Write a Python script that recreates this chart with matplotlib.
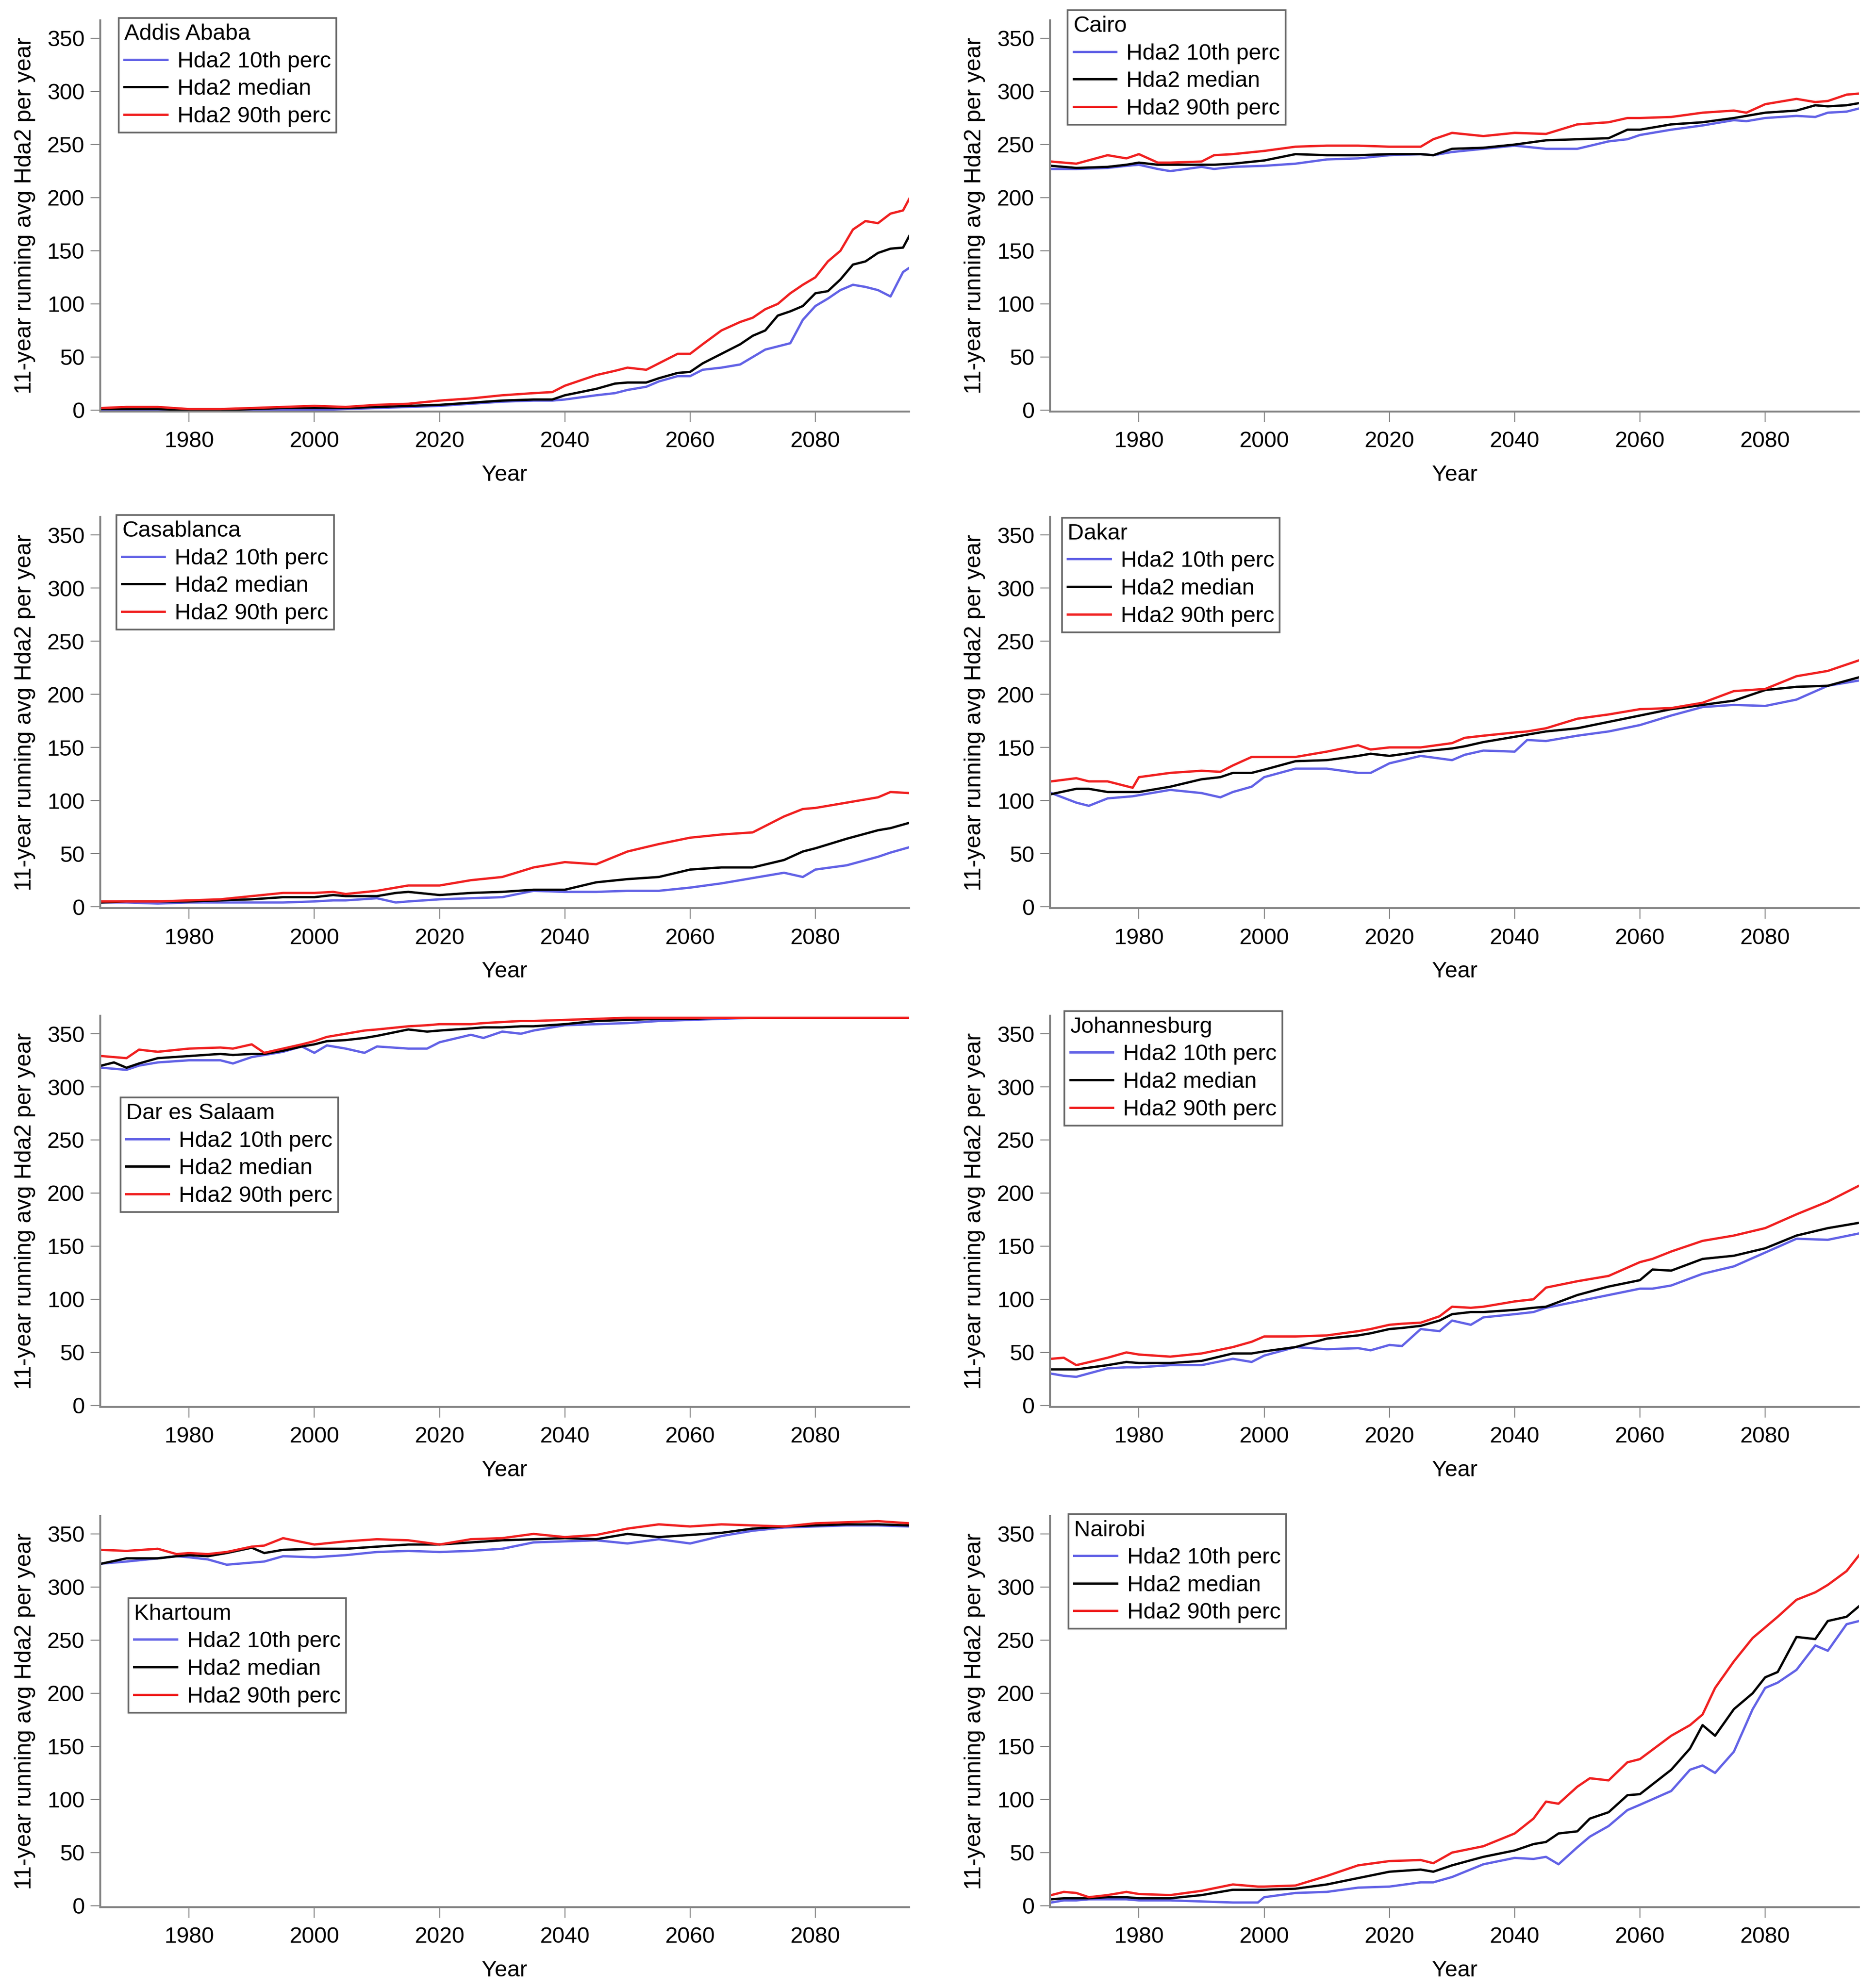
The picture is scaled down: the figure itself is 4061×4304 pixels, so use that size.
"""
Hda2 running averages for eight African cities, 10th / median / 90th percentile.
"""

import matplotlib
matplotlib.use("Agg")
import matplotlib.pyplot as plt

# ---- data ----
ADDIS_YEARS = [1966, 1970, 1975, 1980, 1985, 1990, 1995, 2000, 2005, 2010,
               2015, 2020, 2025, 2030, 2035, 2038, 2040, 2045, 2048, 2050,
               2053, 2055, 2058, 2060, 2062, 2065, 2068, 2070, 2072, 2074,
               2076, 2078, 2080, 2082, 2084, 2086, 2088, 2090, 2092, 2094, 2095]
ADDIS_P10 = [0, 0, 0, 0, 0, 0, 0, 0, 1, 2,
             3, 4, 6, 8, 9, 9, 10, 14, 16, 19,
             22, 27, 32, 32, 38, 40, 43, 50, 57, 60,
             63, 85, 98, 105, 113, 118, 116, 113, 107, 130, 134]
ADDIS_MED = [1, 1, 1, 0, 0, 1, 2, 2, 2, 3,
             4, 5, 7, 9, 10, 10, 14, 20, 25, 26,
             26, 30, 35, 36, 44, 53, 62, 70, 75, 89,
             93, 98, 110, 112, 123, 137, 140, 148, 152, 153, 164]
ADDIS_P90 = [2, 3, 3, 1, 1, 2, 3, 4, 3, 5,
             6, 9, 11, 14, 16, 17, 23, 33, 37, 40,
             38, 44, 53, 53, 62, 75, 83, 87, 95, 100,
             110, 118, 125, 140, 150, 170, 178, 176, 185, 188, 199]

CAIRO_YEARS = [1966, 1970, 1975, 1978, 1980, 1983, 1985, 1990, 1992, 1995,
               2000, 2005, 2010, 2015, 2020, 2025, 2027, 2030, 2035, 2040,
               2045, 2050, 2055, 2058, 2060, 2065, 2070, 2075, 2077, 2080,
               2085, 2088, 2090, 2093, 2095]
CAIRO_P10 = [227, 227, 228, 230, 231, 227, 225, 229, 227, 229,
             230, 232, 236, 237, 240, 241, 240, 243, 246, 249,
             246, 246, 253, 255, 259, 264, 268, 273, 272, 275,
             277, 276, 280, 281, 284]
CAIRO_MED = [230, 228, 229, 231, 233, 231, 231, 231, 231, 232,
             235, 241, 240, 240, 241, 241, 240, 246, 247, 250,
             254, 255, 256, 264, 264, 269, 271, 275, 277, 280,
             282, 287, 286, 287, 289]
CAIRO_P90 = [234, 232, 240, 237, 241, 233, 233, 234, 240, 241,
             244, 248, 249, 249, 248, 248, 255, 261, 258, 261,
             260, 269, 271, 275, 275, 276, 280, 282, 280, 288,
             293, 290, 291, 297, 298]

CASA_YEARS = [1966, 1970, 1975, 1980, 1985, 1990, 1995, 2000, 2003, 2005,
              2010, 2013, 2015, 2020, 2025, 2030, 2035, 2040, 2045, 2050,
              2055, 2060, 2065, 2070, 2075, 2078, 2080, 2085, 2090, 2092, 2095]
CASA_P10 = [4, 4, 3, 4, 4, 4, 4, 5, 6, 6,
            8, 4, 5, 7, 8, 9, 15, 14, 14, 15,
            15, 18, 22, 27, 32, 28, 35, 39, 47, 51, 56]
CASA_MED = [4, 5, 5, 5, 6, 7, 9, 9, 11, 10,
            10, 13, 14, 11, 13, 14, 16, 16, 23, 26,
            28, 35, 37, 37, 44, 52, 55, 64, 72, 74, 79]
CASA_P90 = [5, 5, 5, 6, 7, 10, 13, 13, 14, 12,
            15, 18, 20, 20, 25, 28, 37, 42, 40, 52,
            59, 65, 68, 70, 85, 92, 93, 98, 103, 108, 107]

DAKAR_YEARS = [1966, 1970, 1972, 1975, 1979, 1980, 1985, 1990, 1993, 1995,
               1998, 2000, 2005, 2010, 2015, 2017, 2020, 2025, 2030, 2032,
               2035, 2040, 2042, 2045, 2050, 2055, 2060, 2065, 2070, 2075,
               2080, 2085, 2090, 2095]
DAKAR_P10 = [107, 98, 95, 102, 104, 105, 110, 107, 103, 108,
             113, 122, 130, 130, 126, 126, 135, 142, 138, 143,
             147, 146, 157, 156, 161, 165, 171, 180, 188, 190,
             189, 195, 208, 213]
DAKAR_MED = [106, 111, 111, 108, 108, 108, 113, 120, 122, 126,
             126, 129, 137, 138, 142, 144, 142, 146, 149, 151,
             155, 160, 162, 165, 168, 174, 180, 186, 190, 194,
             204, 207, 208, 216]
DAKAR_P90 = [118, 121, 118, 118, 112, 122, 126, 128, 127, 133,
             141, 141, 141, 146, 152, 148, 150, 150, 154, 159,
             161, 164, 165, 168, 177, 181, 186, 187, 192, 203,
             205, 217, 222, 232]

DAR_YEARS = [1966, 1968, 1970, 1972, 1975, 1980, 1985, 1987, 1990, 1992,
             1995, 1998, 2000, 2002, 2005, 2008, 2010, 2015, 2018, 2020,
             2025, 2027, 2030, 2033, 2035, 2040, 2045, 2050, 2055, 2060,
             2065, 2070, 2080, 2095]
DAR_P10 = [318, 317, 316, 320, 323, 325, 325, 322, 328, 330,
           333, 338, 332, 339, 336, 332, 338, 336, 336, 342,
           349, 346, 352, 350, 353, 358, 359, 360, 362, 363,
           364, 365, 365, 365]
DAR_MED = [320, 323, 318, 322, 327, 329, 331, 330, 331, 331,
           334, 338, 340, 343, 344, 346, 348, 354, 352, 353,
           355, 356, 356, 357, 357, 359, 362, 363, 364, 364,
           365, 365, 365, 365]
DAR_P90 = [329, 328, 327, 335, 333, 336, 337, 336, 340, 332,
           336, 340, 343, 347, 350, 353, 354, 357, 358, 359,
           359, 360, 361, 362, 362, 363, 364, 365, 365, 365,
           365, 365, 365, 365]

JOBURG_YEARS = [1966, 1968, 1970, 1975, 1978, 1980, 1985, 1990, 1995, 1998,
                2000, 2005, 2010, 2015, 2017, 2020, 2022, 2025, 2028, 2030,
                2033, 2035, 2040, 2043, 2045, 2050, 2055, 2060, 2062, 2065,
                2070, 2075, 2080, 2085, 2090, 2095]
JOBURG_P10 = [30, 28, 27, 35, 36, 36, 38, 38, 44, 41,
              47, 55, 53, 54, 52, 57, 56, 72, 70, 80,
              76, 83, 86, 88, 92, 98, 104, 110, 110, 113,
              124, 131, 144, 157, 156, 162]
JOBURG_MED = [34, 34, 34, 38, 41, 40, 40, 42, 49, 49,
              51, 55, 63, 66, 68, 72, 73, 75, 80, 86,
              88, 88, 90, 92, 93, 104, 112, 118, 128, 127,
              138, 141, 148, 160, 167, 172]
JOBURG_P90 = [44, 45, 38, 45, 50, 48, 46, 49, 55, 60,
              65, 65, 66, 70, 72, 76, 77, 78, 84, 93,
              92, 93, 98, 100, 111, 117, 122, 135, 138, 145,
              155, 160, 167, 180, 192, 207]

KHART_YEARS = [1966, 1970, 1975, 1978, 1980, 1983, 1986, 1990, 1992, 1995,
               2000, 2005, 2010, 2015, 2020, 2025, 2030, 2035, 2040, 2045,
               2050, 2055, 2060, 2065, 2070, 2075, 2080, 2085, 2090, 2095]
KHART_P10 = [322, 324, 327, 329, 328, 326, 321, 323, 324, 329,
             328, 330, 333, 334, 333, 334, 336, 342, 343, 344,
             341, 345, 341, 348, 353, 356, 357, 358, 358, 357]
KHART_MED = [322, 327, 327, 329, 330, 329, 332, 337, 332, 335,
             336, 336, 338, 340, 340, 342, 344, 345, 346, 345,
             350, 347, 349, 351, 355, 357, 358, 359, 359, 358]
KHART_P90 = [335, 334, 336, 331, 332, 331, 333, 338, 339, 346,
             340, 343, 345, 344, 340, 345, 346, 350, 347, 349,
             355, 359, 357, 359, 358, 357, 360, 361, 362, 360]

NAIROBI_YEARS = [1966, 1968, 1970, 1972, 1975, 1978, 1980, 1985, 1990, 1995,
                 1999, 2000, 2005, 2010, 2015, 2020, 2025, 2027, 2030, 2035,
                 2040, 2043, 2045, 2047, 2050, 2052, 2055, 2058, 2060, 2065,
                 2068, 2070, 2072, 2075, 2078, 2080, 2082, 2085, 2088, 2090,
                 2093, 2095]
NAIROBI_P10 = [3, 5, 5, 6, 6, 6, 5, 5, 4, 3,
               3, 8, 12, 13, 17, 18, 22, 22, 27, 39,
               45, 44, 46, 39, 55, 65, 75, 90, 95, 108,
               128, 132, 125, 145, 185, 205, 210, 222, 245, 240,
               265, 268]
NAIROBI_MED = [6, 7, 7, 7, 8, 8, 7, 7, 10, 15,
               15, 15, 16, 20, 26, 32, 34, 32, 38, 46,
               52, 58, 60, 68, 70, 82, 88, 104, 105, 128,
               148, 170, 160, 185, 200, 215, 220, 253, 251, 268,
               272, 282]
NAIROBI_P90 = [10, 13, 12, 8, 10, 13, 11, 10, 14, 20,
               18, 18, 19, 28, 38, 42, 43, 40, 50, 56,
               68, 82, 98, 96, 112, 120, 118, 135, 138, 160,
               170, 180, 205, 230, 252, 262, 272, 288, 295, 302,
               315, 330]

SERIES_LABELS = ["Hda2 10th perc", "Hda2 median", "Hda2 90th perc"]
SERIES_COLORS = ["#6262e6", "#000000", "#f02020"]
X_TICKS = [1980, 2000, 2020, 2040, 2060, 2080]
Y_TICKS = [0, 50, 100, 150, 200, 250, 300, 350]

# city, years, p10, median, p90, legend anchor (axes fraction)
PANELS = [
    ("Addis Ababa", ADDIS_YEARS, ADDIS_P10, ADDIS_MED, ADDIS_P90, (0.023, 1.006)),
    ("Cairo", CAIRO_YEARS, CAIRO_P10, CAIRO_MED, CAIRO_P90, (0.022, 1.026)),
    ("Casablanca", CASA_YEARS, CASA_P10, CASA_MED, CASA_P90, (0.020, 1.005)),
    ("Dakar", DAKAR_YEARS, DAKAR_P10, DAKAR_MED, DAKAR_P90, (0.015, 0.998)),
    ("Dar es Salaam", DAR_YEARS, DAR_P10, DAR_MED, DAR_P90, (0.025, 0.791)),
    ("Johannesburg", JOBURG_YEARS, JOBURG_P10, JOBURG_MED, JOBURG_P90, (0.018, 1.012)),
    ("Khartoum", KHART_YEARS, KHART_P10, KHART_MED, KHART_P90, (0.035, 0.790)),
    ("Nairobi", NAIROBI_YEARS, NAIROBI_P10, NAIROBI_MED, NAIROBI_P90, (0.023, 1.004)),
]

plt.rcParams["font.family"] = ["Liberation Sans", "DejaVu Sans"]

SPINE = "#858585"
FS = 17.5

fig = plt.figure(figsize=(20.305, 21.52), dpi=200)

col_x = [0.0534, 0.5597]
row_y = [0.7930, 0.5432, 0.2923, 0.0407]
width, height = 0.4313, 0.1968

for i, (city, years, p10, med, p90, anchor) in enumerate(PANELS):
    row, col = divmod(i, 2)
    ax = fig.add_axes([col_x[col], row_y[row], width, height])

    for vals, label, color in zip([p10, med, p90], SERIES_LABELS, SERIES_COLORS):
        ax.plot(years, vals, color=color, lw=1.8, label=label)

    ax.set_xlim(1965.8, 2095)
    ax.set_ylim(-1.3, 367)
    ax.set_xticks(X_TICKS)
    ax.set_yticks(Y_TICKS)

    for side in ("top", "right"):
        ax.spines[side].set_visible(False)
    for side in ("left", "bottom"):
        ax.spines[side].set_color(SPINE)
        ax.spines[side].set_linewidth(1.5)

    ax.tick_params(axis="x", direction="out", length=8.3, width=0.8,
                   color=SPINE, pad=7, labelsize=FS)
    ax.tick_params(axis="y", direction="out", length=7.5, width=0.8,
                   color=SPINE, pad=4.7, labelsize=FS)

    ax.set_xlabel("Year", fontsize=FS)
    ax.xaxis.set_label_coords(0.5, -0.136)
    ax.set_ylabel("11-year running avg Hda2 per year", fontsize=18)
    ax.yaxis.set_label_coords(-0.080, 0.5)

    leg = ax.legend(title=city, loc="upper left", bbox_to_anchor=anchor,
                    fontsize=FS, title_fontsize=FS, alignment="left",
                    frameon=True, fancybox=False, framealpha=1,
                    borderaxespad=0, borderpad=0.25, labelspacing=0.3,
                    handlelength=1.9, handletextpad=0.45)
    frame = leg.get_frame()
    frame.set_edgecolor("#666666")
    frame.set_linewidth(1.3)

fig.savefig("out.png", dpi=200)
